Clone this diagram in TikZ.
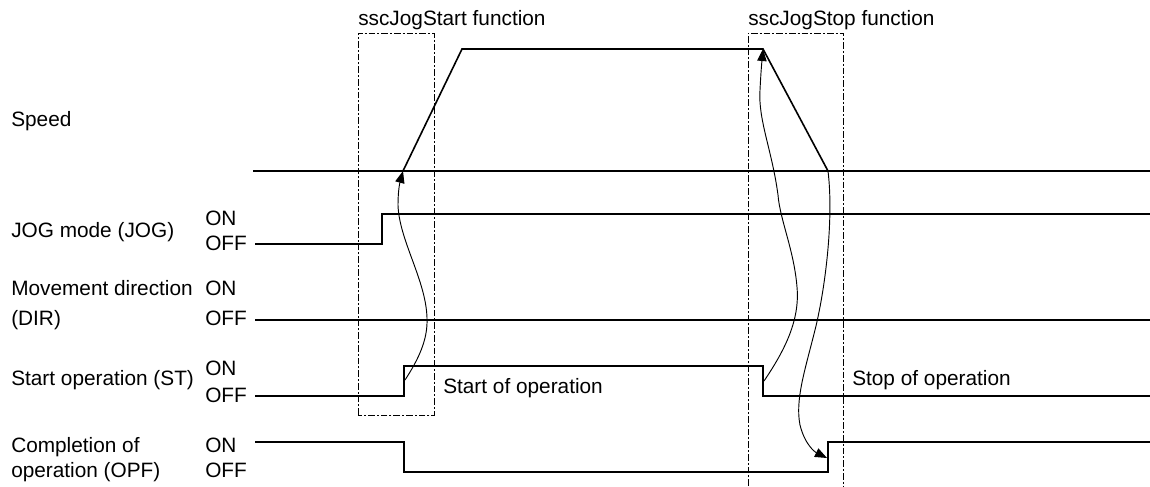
\documentclass[tikz,border=0pt]{standalone}
\usepackage{fontspec}
\setmainfont{Liberation Sans}
\usetikzlibrary{arrows.meta}
\begin{document}
\begin{tikzpicture}[x=0.75pt,y=-0.75pt,
  lbl/.style={anchor=base west,inner sep=0pt,font=\fontsize{15.6pt}{18pt}\selectfont},
  sig/.style={line width=1.2pt,line join=miter},
  axisline/.style={line width=1.5pt},
  fnbox/.style={line width=0.75pt,dash pattern=on 5pt off 1.5pt on 1.5pt off 1.5pt},
  cause/.style={line width=0.7pt,-{Triangle[length=9pt,width=7pt]}}]
\useasboundingbox (0,0) rectangle (1150,486);

% function boxes
\draw[fnbox] (358,415) rectangle (434,33);
\draw[fnbox] (748,486) -- (748,33) -- (843,33) -- (843,486);

% speed
\draw[axisline] (253,171) -- (1150,171);
\coordinate (spStart) at (403,171);
\coordinate (spTopL) at (462,49);
\coordinate (spTop) at (763,49);
\coordinate (spEnd) at (828,171);
\draw[sig] (spStart) -- (spTopL) -- (spTop) -- (spEnd);

% JOG
\draw[sig] (255,244) -- (382,244) -- (382,214) -- (1150,214);
% DIR
\draw[axisline] (255,320) -- (1150,320);
% ST
\draw[sig] (255,396) -- (404,396) -- (404,366) -- (763,366) -- (763,396) -- (1150,396);
% OPF
\draw[sig] (255,442) -- (404,442) -- (404,472) -- (828,472) -- (828,442) -- (1150,442);

\coordinate (stRise) at (405,380);
\coordinate (stFall) at (764,381);
\coordinate (opfRise) at (827,458);

\draw[cause] (stRise) .. controls (418,360) and (428,340) .. (427,318)
  .. controls (426,280) and (399,240) .. (398,205)
  .. controls (398,190) and (400,182) .. (spStart);
\draw[cause] (stFall) .. controls (785,350) and (800,320) .. (797,287)
  .. controls (794,250) and (780,220) .. (778,195)
  .. controls (772,150) and (758,120) .. (760,90)
  .. controls (761,70) and (762,60) .. (spTop);
\draw[cause] (spEnd) .. controls (834,220) and (825,290) .. (815,330)
  .. controls (805,370) and (795,400) .. (800,425)
  .. controls (805,445) and (815,452) .. (opfRise);

% texts
\node[lbl] (t1) at (358,25) {sscJogStart function};
\node[lbl] (t2) at (748,25) {sscJogStop function};
\node[lbl] (speed) at (11,126) {Speed};
\node[lbl] (jog) at (11,237) {JOG mode (JOG)};
\node[lbl] (jogon) at (205,225) {ON};
\node[lbl] (jogoff) at (205,250) {OFF};
\node[lbl] (dir1) at (11,295) {Movement direction};
\node[lbl] (dir2) at (11,325) {(DIR)};
\node[lbl] (diron) at (205,295) {ON};
\node[lbl] (diroff) at (205,325) {OFF};
\node[lbl] (st) at (11,385) {Start operation (ST)};
\node[lbl] (ston) at (205,375) {ON};
\node[lbl] (stoff) at (205,402) {OFF};
\node[lbl] (opf1) at (11,452) {Completion of};
\node[lbl] (opf2) at (11,477) {operation (OPF)};
\node[lbl] (opfon) at (205,452) {ON};
\node[lbl] (opfoff) at (205,477) {OFF};
\node[lbl] (sto) at (443,393) {Start of operation};
\node[lbl] (spo) at (852,385) {Stop of operation};
\end{tikzpicture}
\end{document}
